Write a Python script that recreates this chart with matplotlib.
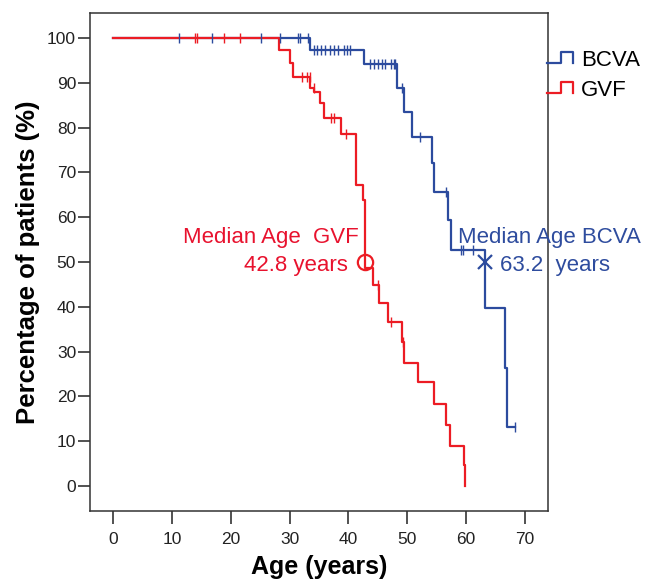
import numpy as np
import matplotlib
matplotlib.use('Agg')
import matplotlib.pyplot as plt
from matplotlib.legend_handler import HandlerBase
from matplotlib.lines import Line2D

plt.rcParams['font.family'] = ['Liberation Sans', 'DejaVu Sans']

# ---- data ----
gvf_event_ages = [28.2, 30.1, 30.5, 33.5, 34.2, 35.2, 35.9, 38.7, 41.3, 42.5, 42.8,
                  44.2, 45.2, 46.7, 49.1, 49.5, 51.8, 54.6, 56.7, 57.3, 59.75, 59.8]
gvf_survival = [97.3, 94.4, 91.4, 88.8, 88.0, 85.4, 82.1, 78.5, 67.2, 63.8, 48.6,
                44.9, 40.8, 36.7, 32.1, 27.5, 23.1, 18.2, 13.6, 8.9, 4.7, 0.0]
gvf_end_age = 59.8
gvf_censor_ages = [13.8, 14.2, 18.9, 21.5, 32.1, 33.0, 33.4, 34.1, 37.1, 37.5, 39.6,
                   45.0, 47.3, 49.3]

bcva_event_ages = [33.5, 42.7, 48.2, 49.5, 50.9, 54.2, 54.5, 56.9, 57.4, 63.2, 66.7, 67.1]
bcva_survival = [97.3, 94.3, 88.9, 83.5, 77.8, 72.0, 65.7, 59.4, 52.7, 39.7, 26.3, 13.1]
bcva_end_age = 68.3
bcva_censor_ages = [11.2, 16.8, 25.2, 28.4, 31.4, 31.8, 33.2, 34.1, 34.6, 35.3, 36.1,
                    36.9, 37.6, 38.3, 39.2, 39.8, 40.2, 43.7, 44.3, 45.1, 45.7, 46.3,
                    47.2, 47.7, 48.0, 49.1, 52.2, 56.7, 59.2, 59.6, 61.3, 68.3]

gvf_median = 42.8
bcva_median = 63.2

x_ticks = [0, 10, 20, 30, 40, 50, 60, 70]
y_ticks = [0, 10, 20, 30, 40, 50, 60, 70, 80, 90, 100]

RED = '#EC1C24'
BLUE = '#2C4B9E'
RED_TXT = '#E8122E'
BLUE_TXT = '#2E4C9E'


def surv_at(t, events, surv):
    s = 100.0
    for e, v in zip(events, surv):
        if e <= t:
            s = v
    return s


fig = plt.figure(figsize=(6.64, 5.86), dpi=100)
ax = fig.add_axes([90 / 664, 1 - 511 / 586, (548 - 90) / 664, (511 - 13) / 586])

# curves
bx = [0] + bcva_event_ages + [bcva_end_age]
by = [100] + bcva_survival + [bcva_survival[-1]]
ax.step(bx, by, where='post', color=BLUE, lw=1.6, zorder=2)
gx = [0] + gvf_event_ages + [gvf_end_age]
gy = [100] + gvf_survival + [gvf_survival[-1]]
ax.step(gx, gy, where='post', color=RED, lw=1.6, zorder=3)

# censor marks
ax.plot(bcva_censor_ages, [surv_at(t, bcva_event_ages, bcva_survival) for t in bcva_censor_ages],
        ls='none', marker='|', ms=7, mew=1.0, color=BLUE, zorder=4)
ax.plot(gvf_censor_ages, [surv_at(t, gvf_event_ages, gvf_survival) for t in gvf_censor_ages],
        ls='none', marker='|', ms=7, mew=1.0, color=RED, zorder=4)

# medians
ax.plot([gvf_median], [50], marker='o', ms=11, mfc='none', mec=RED, mew=1.6, zorder=5)
ax.plot([bcva_median], [50], marker='x', ms=10, mec=BLUE, mew=1.6, zorder=5)

ax.text(41.7, 54.3, 'Median Age  GVF', color=RED_TXT, fontsize=16, ha='right', va='baseline')
ax.text(40.0, 48.0, f'{gvf_median} years', color=RED_TXT, fontsize=16, ha='right', va='baseline')
ax.text(58.7, 54.2, 'Median Age BCVA', color=BLUE_TXT, fontsize=16, ha='left', va='baseline')
ax.text(65.8, 48.1, f'{bcva_median}  years', color=BLUE_TXT, fontsize=16, ha='left', va='baseline')

ax.set_xlim(-4, 74)
ax.set_ylim(-5.6, 105.6)
ax.set_xticks(x_ticks)
ax.set_yticks(y_ticks)
ax.tick_params(axis='both', direction='out', length=9, width=1.1, labelsize=12.5, colors='#222222')
ax.tick_params(axis='x', pad=6)
ax.tick_params(axis='y', pad=1)
for sp in ax.spines.values():
    sp.set_linewidth(1.1)
    sp.set_color('#333333')

ax.set_xlabel('Age (years)', fontsize=18, fontweight='bold', labelpad=6)
ax.set_ylabel('Percentage of patients (%)', fontsize=18.5, fontweight='bold', labelpad=5)


class StepHandler(HandlerBase):
    def create_artists(self, legend, orig_handle, xdescent, ydescent, width, height,
                       fontsize, trans):
        x0 = -xdescent
        y0 = -ydescent
        xs = [x0, x0 + 0.55 * width, x0 + 0.55 * width, x0 + width, x0 + width]
        ys = [y0 + 0.15 * height, y0 + 0.15 * height, y0 + 0.95 * height,
              y0 + 0.95 * height, y0 + 0.15 * height]
        ln = Line2D(xs, ys, color=orig_handle.get_color(), lw=1.6, transform=trans)
        return [ln]


handles = [Line2D([], [], color=BLUE), Line2D([], [], color=RED)]
leg = fig.legend(handles, ['BCVA', 'GVF'], handler_map={Line2D: StepHandler()},
                 loc='upper left', bbox_to_anchor=(547 / 664, 1 - 50 / 586),
                 frameon=False, fontsize=16, handlelength=1.15, handleheight=0.55,
                 handletextpad=0.38, labelspacing=0.4, borderpad=0, borderaxespad=0)

fig.savefig('out.png', dpi=100)
